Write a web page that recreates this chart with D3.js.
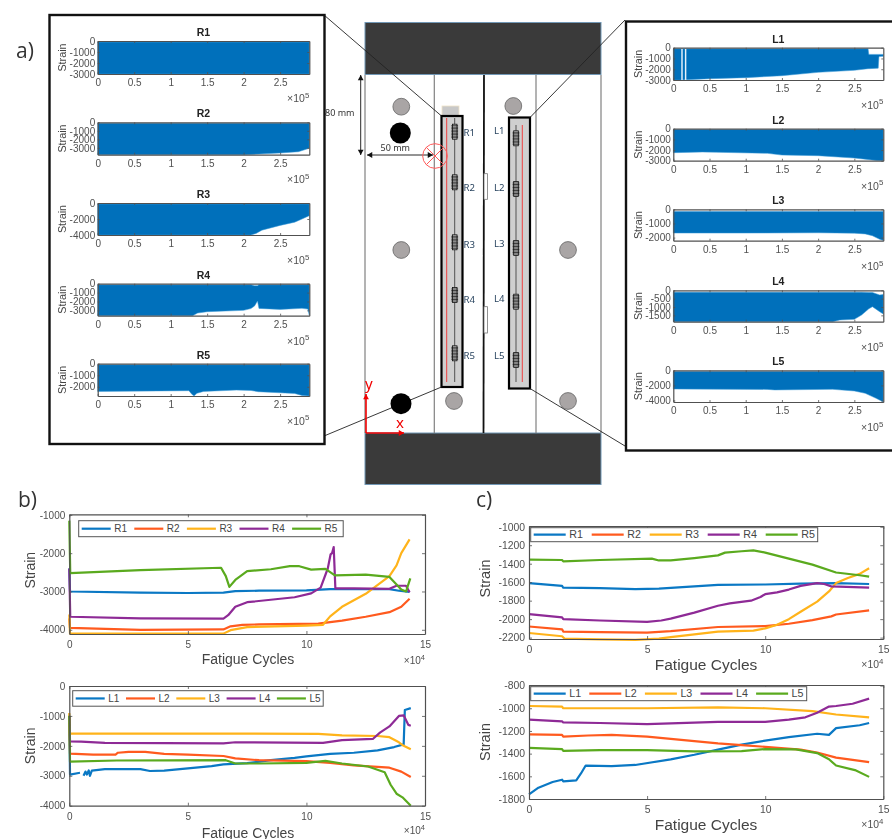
<!DOCTYPE html>
<html><head><meta charset="utf-8">
<style>html,body{margin:0;padding:0;background:#fff}svg{display:block;filter:blur(0.45px)}text{font-family:"Liberation Sans",Arial,sans-serif}</style>
<script src="https://cdn.jsdelivr.net/npm/d3@7"></script></head><body>
<svg id="c" width="892" height="839" viewBox="0 0 892 839"></svg>
<script>
// ---------- DATA: small panels of a) — [cycles/1e5, upper strain, lower strain]
const envR1=[[0,-100,-3000],[2.9,-100,-3000]];
const envR2=[[0,-120,-3800],[2.0,-120,-3800],[2.1,-120,-3770],[2.5,-120,-3600],[2.75,-120,-3450],[2.9,-120,-3050]];
const envR3=[[0,-130,-4000],[2.1,-130,-4000],[2.17,-130,-3800],[2.25,-130,-3400],[2.5,-130,-2800],[2.7,-130,-2400],[2.8,-130,-2000],[2.9,-130,-1580]];
const envR4=[[0,-120,-3600],[1.3,-120,-3600],[1.37,-120,-3300],[1.5,-120,-3150],[2.0,-120,-3000],[2.1,-120,-2800],[2.15,-220,-2500],[2.19,-220,-1950],[2.21,-120,-2780],[2.5,-120,-2890],[2.8,-120,-2775],[2.88,-120,-2850],[2.9,-120,-3550]];
const envR5=[[0,-90,-2400],[1.25,-90,-2340],[1.29,-90,-2650],[1.32,-90,-2800],[1.36,-90,-2570],[1.45,-90,-2400],[1.9,-90,-2290],[2.1,-90,-2320],[2.2,-90,-2430],[2.5,-90,-2520],[2.7,-90,-2580],[2.8,-90,-2750],[2.9,-90,-2800]];
const envL1=[[0,-100,-3000],[0.1,-100,-3000],[0.5,-100,-2880],[1.0,-100,-2780],[1.5,-100,-2600],[2.0,-100,-2290],[2.5,-100,-2100],[2.69,-100,-1950],[2.7,-620,-1950],[2.83,-620,-1900],[2.84,-620,-820],[2.9,-620,-800]];
const envL2=[[0,-80,-2250],[0.4,-80,-2190],[0.6,-80,-2210],[1.3,-80,-2310],[1.5,-80,-2470],[2.0,-80,-2530],[2.5,-80,-2750],[2.8,-80,-2970],[2.9,-80,-3000]];
const envL3=[[0,-160,-1680],[1.0,-160,-1680],[2.0,-160,-1660],[2.5,-160,-1690],[2.65,-160,-1740],[2.75,-160,-1870],[2.85,-160,-2120],[2.9,-160,-2200]];
const envL4=[[0,-110,-1880],[2.2,-110,-1880],[2.3,-110,-1780],[2.5,-110,-1740],[2.6,-110,-1480],[2.7,-130,-1110],[2.75,-130,-980],[2.85,-280,-1280],[2.9,-250,-1420]];
const envL5=[[0,-170,-2480],[1.3,-170,-2530],[1.4,-170,-2600],[2.2,-170,-2520],[2.5,-170,-2740],[2.65,-170,-3050],[2.8,-170,-3710],[2.9,-170,-4200]];
const gapsL1=[[0.11,0.13],[0.16,0.18]];
const smallXTicks=[0,0.5,1,1.5,2,2.5];
const namesR=["R1","R2","R3","R4","R5"];
const namesL=["L1","L2","L3","L4","L5"];
const rangesR=[3000,3800,4000,3600,2800];
const rangesL=[3000,3000,2220,1880,4200];
const ticksR=[[0,-1000,-2000,-3000],[0,-1000,-2000,-3000],[0,-2000,-4000],[0,-1000,-2000,-3000],[0,-1000,-2000]];
const ticksL=[[0,-1000,-2000,-3000],[0,-1000,-2000,-3000],[0,-1000,-2000],[0,-500,-1000,-1500],[0,-2000,-4000]];
// ---------- DATA: b) — [cycles/1e4, strain]
const bR1=[[0,-2400],[0.03,-3000],[3,-3030],[5,-3040],[6.5,-3030],[7,-2990],[8,-2980],[10,-2970],[11,-2940],[13.5,-2940],[13.9,-2980],[14.35,-3010]];
const bR2=[[0,-3700],[0.03,-3950],[3,-4000],[6.5,-3990],[6.8,-3910],[7.3,-3870],[8,-3860],[10.5,-3840],[11.5,-3760],[12.5,-3660],[13.5,-3540],[14,-3400],[14.35,-3190]];
const bR3=[[0,-3600],[0.03,-4100],[6.5,-4100],[6.8,-4010],[7.5,-3930],[10,-3890],[10.7,-3870],[11,-3650],[11.5,-3400],[12.5,-3060],[13.5,-2600],[13.8,-2320],[14,-2000],[14.35,-1640]];
const bR4=[[0,-2400],[0.04,-3660],[3,-3700],[6.5,-3710],[6.7,-3620],[7,-3400],[7.5,-3280],[9.5,-3150],[10.2,-3050],[10.6,-2900],[10.9,-2400],[11.02,-2030],[11.08,-2000],[11.15,-1840],[11.22,-2920],[12,-2920],[13.5,-2930],[13.8,-2850],[14.2,-2850],[14.35,-3020]];
const bR5=[[0,-1150],[0.04,-2520],[3,-2440],[6.4,-2380],[6.6,-2600],[6.75,-2880],[7,-2700],[7.5,-2470],[8.5,-2420],[9.3,-2340],[9.7,-2340],[10.2,-2430],[10.8,-2410],[11.2,-2580],[12.5,-2560],[13.5,-2620],[14,-2950],[14.2,-3000],[14.38,-2660]];
const bL1=[[0,-950],[0.03,-2960],[0.45,-2900],[0.5,null],[0.6,-3000],[0.68,-2860],[0.74,-2960],[0.82,-2820],[0.87,-3000],[0.95,-2830],[1.5,-2780],[3,-2780],[3.4,-2840],[4,-2830],[5,-2750],[6,-2680],[6.5,-2620],[7.5,-2580],[8.5,-2480],[9.5,-2400],[10,-2350],[11,-2270],[12,-2230],[13,-2150],[13.7,-2040],[14.1,-1950],[14.15,-800],[14.4,-740]];
const bL2=[[0,-1000],[0.03,-2260],[1,-2290],[1.95,-2290],[2.05,-2230],[2.5,-2200],[3.2,-2200],[4,-2270],[5,-2290],[6.5,-2340],[7,-2420],[8,-2480],[10,-2510],[11,-2570],[12,-2650],[13,-2700],[13.5,-2730],[14,-2860],[14.4,-3040]];
const bL3=[[0,-900],[0.02,-1590],[7,-1590],[10.5,-1600],[11.5,-1650],[13,-1670],[13.5,-1710],[13.9,-1880],[14.1,-2000],[14.4,-2110]];
const bL4=[[0,-1000],[0.03,-1850],[0.5,-1860],[1.5,-1900],[6.5,-1920],[7,-1880],[10.7,-1900],[11.5,-1810],[12.8,-1770],[13.1,-1560],[13.5,-1350],[13.9,-1000],[14.1,-980],[14.3,-1300],[14.4,-1330]];
const bL5=[[0,-1000],[0.03,-2530],[2,-2490],[6.6,-2480],[7,-2590],[8,-2590],[10,-2570],[10.8,-2500],[11.5,-2590],[12.6,-2690],[13.3,-2880],[13.55,-3300],[13.8,-3600],[14.05,-3720],[14.4,-4000]];
// ---------- DATA: c)
const cR1=[[0,-1610],[1.4,-1640],[1.45,-1660],[3,-1665],[4.5,-1675],[5.5,-1670],[7,-1645],[8,-1630],[10,-1625],[11.5,-1615],[13,-1610],[14.4,-1620]];
const cR2=[[0,-2080],[1.4,-2110],[1.45,-2135],[3,-2140],[5,-2145],[6,-2130],[8,-2085],[10,-2075],[11,-2050],[12,-2010],[12.8,-1970],[13,-1950],[14.4,-1905]];
const cR3=[[0,-2150],[1.4,-2185],[1.5,-2210],[3,-2220],[4.5,-2225],[5.5,-2210],[6,-2195],[7,-2165],[8,-2135],[9.5,-2125],[10,-2100],[10.5,-2060],[11,-2000],[11.5,-1920],[12.2,-1810],[12.7,-1700],[13,-1610],[13.5,-1555],[14,-1510],[14.4,-1450]];
const cR4=[[0,-1945],[1.4,-1980],[1.45,-2000],[3,-2015],[5,-2030],[5.6,-2015],[6,-1995],[7,-1930],[8,-1855],[8.5,-1830],[9.4,-1800],[9.8,-1760],[10,-1730],[10.5,-1710],[11,-1680],[11.5,-1640],[12.2,-1610],[12.5,-1620],[12.8,-1645],[14.4,-1660]];
const cR5=[[0,-1355],[1.4,-1360],[1.45,-1375],[3,-1360],[5.2,-1345],[5.5,-1365],[6,-1365],[7,-1340],[8,-1310],[8.3,-1280],[9,-1265],[9.5,-1255],[10,-1280],[11,-1345],[12,-1410],[13,-1495],[14,-1525],[14.4,-1540]];
const cL1=[[0,-1760],[0.4,-1700],[1,-1650],[1.4,-1630],[1.45,-1645],[2,-1635],[2.2,-1575],[2.4,-1505],[3.5,-1510],[4.5,-1500],[6,-1450],[7,-1410],[8,-1365],[9,-1320],[10,-1285],[11,-1255],[12.2,-1225],[12.7,-1235],[13,-1175],[14,-1150],[14.4,-1130]];
const cL2=[[0,-1230],[1.4,-1235],[1.45,-1250],[2.5,-1240],[3.5,-1235],[5,-1250],[7,-1290],[8,-1310],[9,-1325],[10,-1340],[11.5,-1365],[12.2,-1390],[13,-1435],[14.4,-1475]];
const cL3=[[0,-980],[1.4,-985],[1.45,-1000],[5,-1000],[8,-993],[10,-1000],[12,-1025],[13,-1055],[14.4,-1080]];
const cL4=[[0,-1100],[1.4,-1115],[1.45,-1125],[3,-1130],[5,-1140],[8,-1120],[10,-1120],[11,-1100],[11.7,-1080],[12.2,-1040],[12.7,-985],[13,-980],[13.7,-960],[14.4,-915]];
const cL5=[[0,-1350],[1.4,-1360],[1.45,-1375],[3,-1370],[5,-1370],[7,-1380],[9,-1378],[10,-1360],[11.3,-1362],[12.2,-1395],[12.7,-1450],[13,-1505],[13.8,-1545],[14.4,-1605]];
const lineColors=["#0a78c4","#ff5a1e","#ffb31a","#8e2a96","#5aaa1e"];
const bigXTicks=[0,5,10,15];

// ---------- helpers
const svg=d3.select("#c");
const TICK="#505050", BOX="#505050", BLUE="#0070bb";
function box(g,x,y,xT,yT,fs,tl,xPad,yPad){
  const styl=a=>{a.selectAll("path").attr("stroke",BOX).attr("stroke-width",1.2);a.selectAll("line").attr("stroke",BOX).attr("stroke-width",.8);
    a.selectAll("text").attr("fill",TICK).attr("font-size",fs).style("font-family",'"Liberation Sans",Arial,sans-serif');};
  const H=y.range()[0],W=x.range()[1];
  const fmt=d=>String(d);
  g.append("g").attr("transform",`translate(0,${H})`).call(d3.axisBottom(x).tickValues(xT).tickSizeInner(-tl).tickSizeOuter(0).tickPadding(xPad).tickFormat(fmt)).call(styl);
  g.append("g").call(d3.axisLeft(y).tickValues(yT).tickSizeInner(-tl).tickSizeOuter(0).tickPadding(yPad).tickFormat(fmt)).call(styl);
  g.append("g").call(d3.axisTop(x).tickValues(xT).tickSizeInner(-tl).tickSizeOuter(0).tickFormat("")).call(styl);
  g.append("g").attr("transform",`translate(${W},0)`).call(d3.axisRight(y).tickValues(yT).tickSizeInner(-tl).tickSizeOuter(0).tickFormat("")).call(styl);
}
function tenPow(sel,xr,yb,exp,fs){
  const t=sel.append("text").attr("x",xr).attr("y",yb).attr("text-anchor","end").attr("fill",TICK).attr("font-size",fs);
  t.append("tspan").text("×10");
  t.append("tspan").attr("dy",-fs*0.4).attr("font-size",fs*0.75).text(exp);
}
function small(name,env,yRange,yT,left,right,top,bottom,labelX,gaps){
  const g=svg.append("g").attr("transform",`translate(${left},${top})`);
  const x=d3.scaleLinear().domain([0,2.9]).range([0,right-left]);
  const y=d3.scaleLinear().domain([-yRange,0]).range([bottom-top,0]);
  const area=d3.area().x(d=>x(d[0])).y0(d=>y(d[2])).y1(d=>y(d[1]));
  g.append("path").datum(env).attr("d",area).attr("fill",BLUE).attr("stroke","#3a9ad8").attr("stroke-width",.5);
  (gaps||[]).forEach(c=>g.append("rect").attr("x",x(c[0])).attr("width",x(c[1])-x(c[0])).attr("y",y(-120)).attr("height",y(-yRange)-y(-120)).attr("fill","#e6f2fb"));
  box(g,x,y,smallXTicks,yT,10,2,5,2.5);
  g.append("text").attr("x",(right-left)/2).attr("y",-5).attr("text-anchor","middle").attr("font-size",10.5).attr("font-weight","bold").attr("fill","#222").text(name);
  g.append("text").attr("transform",`translate(${labelX-left},${(bottom-top)/2}) rotate(-90)`).attr("text-anchor","middle").attr("font-size",10.8).attr("fill","#444").text("Strain");
  tenPow(g,right-left,61,"5",10.5);
}
function big(o){
  const g=svg.append("g").attr("transform",`translate(${o.l},${o.t})`);
  const W=o.r-o.l,H=o.b-o.t;
  const x=d3.scaleLinear().domain([0,15]).range([0,W]);
  const y=d3.scaleLinear().domain(o.dom).range([H,0]);
  const line=d3.line().defined(d=>d[1]!==null).x(d=>x(d[0])).y(d=>y(d[1]));
  o.series.forEach((s,i)=>g.append("path").datum(s).attr("d",line).attr("fill","none").attr("stroke",lineColors[i]).attr("stroke-width",2.2).attr("stroke-linejoin","round"));
  box(g,x,y,bigXTicks,o.yT,o.fs,3,7,4);
  g.append("text").attr("transform",`translate(${o.ylx-o.l},${H/2+o.yly}) rotate(-90)`).attr("text-anchor","middle").attr("font-size",o.lfs).attr("fill","#444").text("Strain");
  g.append("text").attr("x",o.xlx-o.l).attr("y",o.xly-o.t).attr("text-anchor","middle").attr("font-size",o.xfs).attr("fill","#444").text("Fatigue Cycles");
  tenPow(g,W,o.pow-o.t,"4",o.fs);
  const L=g.append("g").attr("transform",`translate(${o.leg[0]-o.l},${o.leg[1]-o.t})`);
  L.append("rect").attr("width",o.leg[2]).attr("height",o.leg[3]).attr("fill","#fff").attr("stroke","#555").attr("stroke-width",1);
  o.names.forEach((n,i)=>{
    const px=o.leg[4]+i*o.leg[5];
    L.append("line").attr("x1",px).attr("x2",px+o.leg[6]).attr("y1",o.leg[3]/2).attr("y2",o.leg[3]/2).attr("stroke",lineColors[i]).attr("stroke-width",2.2);
    L.append("text").attr("x",px+o.leg[6]+3.5).attr("y",o.leg[3]/2+3.6).attr("font-size",o.legfs).attr("fill","#444").text(n);
  });
}

// ---------- schematic
function schematic(){
  const s=svg.append("g");
  s.append("rect").attr("x",365).attr("y",22.5).attr("width",236).attr("height",52).attr("fill","#3a3a3a").attr("stroke","#7197b5");
  s.append("rect").attr("x",365).attr("y",433).attr("width",236).attr("height",51.5).attr("fill","#3a3a3a").attr("stroke","#7197b5");
  [365,434.3,536,601].forEach(x=>s.append("line").attr("x1",x).attr("x2",x).attr("y1",75).attr("y2",433).attr("stroke","#808080").attr("stroke-width",1.2));
  s.append("line").attr("x1",484).attr("x2",483.5).attr("y1",75).attr("y2",433).attr("stroke","#111").attr("stroke-width",1.8);
  [[173.7,199.3],[306.7,333]].forEach(p=>s.append("rect").attr("x",484).attr("y",p[0]).attr("width",3.5).attr("height",p[1]-p[0]).attr("fill","#fff").attr("stroke","#777").attr("stroke-width",.8));
  [[401.3,106.7],[513.3,106],[401.3,250],[568,250],[454,401],[568,401]].forEach(p=>s.append("circle").attr("cx",p[0]).attr("cy",p[1]).attr("r",8.4).attr("fill","#a9a5a5").attr("stroke","#666").attr("stroke-width",.8));
  // bars
  s.append("rect").attr("x",442).attr("y",106).attr("width",17).attr("height",10).attr("fill","#c8c8c8").attr("stroke","#efe3c8").attr("stroke-width",.8);
  s.append("rect").attr("x",441.5).attr("y",116).attr("width",21).attr("height",271).attr("fill","#cfcfcf").attr("stroke","#000").attr("stroke-width",2.2);
  s.append("rect").attr("x",509).attr("y",117.5).attr("width",21).attr("height",271).attr("fill","#cfcfcf").attr("stroke","#000").attr("stroke-width",2.2);
  [[446.7,118,382,"#f03030"],[454.7,118,382,"#444"],[522.3,125,382,"#f03030"],[516,125,382,"#444"]].forEach(a=>s.append("line").attr("x1",a[0]).attr("x2",a[0]).attr("y1",a[1]).attr("y2",a[2]).attr("stroke",a[3]).attr("stroke-width",.9));
  const gauge=(x,y)=>{
    s.append("rect").attr("x",x-2.3).attr("y",y-7.5).attr("width",4.6).attr("height",15).attr("fill","#ccc").attr("stroke","#111").attr("stroke-width",.8);
    d3.range(-6,6.5,1.5).forEach(d=>s.append("line").attr("x1",x-3.4).attr("x2",x+3.4).attr("y1",y+d).attr("y2",y+d).attr("stroke","#111").attr("stroke-width",.75));
  };
  [131.7,182.3,242.3,295,353.3].forEach(y=>gauge(454.7,y));
  [138.3,189,248,301.7,360].forEach(y=>gauge(516,y));
  const lab=(t,x,y)=>s.append("text").attr("x",x).attr("y",y+3.6).attr("font-size",9.6).attr("fill","#2a4560").style("font-family",'"Noto Sans",sans-serif').text(t);
  [132,187.7,244,299.3,355.7].forEach((y,i)=>lab(namesR[i],463.5,y));
  [130.7,187,243.3,298.7,355].forEach((y,i)=>lab(namesL[i],494,y));
  // dimension arrows
  const arrow=(x1,y1,x2,y2,c,w,a)=>{
    s.append("line").attr("x1",x1).attr("y1",y1).attr("x2",x2).attr("y2",y2).attr("stroke",c).attr("stroke-width",w);
    const t=Math.atan2(y2-y1,x2-x1);
    const pt=(ang,l)=>[x2-l*Math.cos(t+ang),y2-l*Math.sin(t+ang)];
    s.append("polygon").attr("points",[[x2,y2],pt(.5,a),pt(-.5,a)].join(" ")).attr("fill",c);
  };
  arrow(360.7,100,360.7,75,"#111",.9,6); arrow(360.7,130,360.7,155,"#111",.9,6);
  s.append("line").attr("x1",360.7).attr("x2",360.7).attr("y1",100).attr("y2",130).attr("stroke","#111").attr("stroke-width",.9);
  arrow(400,155,367,155,"#111",.9,6); arrow(400,155,433,155,"#111",.9,6);
  s.append("text").attr("x",325).attr("y",116).attr("font-size",9).attr("fill","#333").style("font-family",'"Noto Sans",sans-serif').text("80 mm");
  s.append("text").attr("x",380.5).attr("y",151).attr("font-size",9).attr("fill","#333").style("font-family",'"Noto Sans",sans-serif').text("50 mm");
  s.append("circle").attr("cx",435).attr("cy",156).attr("r",12.3).attr("fill","none").attr("stroke","#ff5a5a");
  [[-8.7,-8.7,8.7,8.7],[-8.7,8.7,8.7,-8.7]].forEach(c=>s.append("line").attr("x1",435+c[0]).attr("y1",156+c[1]).attr("x2",435+c[2]).attr("y2",156+c[3]).attr("stroke","#ff5a5a"));
  // connector lines
  [[324,15,441.5,116],[324,436,441.5,387],[625,20,530,117.5],[625,446,530,388.5]].forEach(c=>s.append("line").attr("x1",c[0]).attr("y1",c[1]).attr("x2",c[2]).attr("y2",c[3]).attr("stroke","#222").attr("stroke-width",.9));
  s.append("circle").attr("cx",400.3).attr("cy",133).attr("r",10.5).attr("fill","#000");
  s.append("circle").attr("cx",401).attr("cy",403.7).attr("r",10.5).attr("fill","#000");
  // red coordinate axes
  arrow(366,433,366,394,"#f00000",1.6,6); arrow(366,433,404,433,"#f00000",1.6,6);
  s.append("text").attr("x",365).attr("y",389).attr("font-size",15).attr("fill","#f00000").style("font-family",'"Noto Sans",sans-serif').text("y");
  s.append("text").attr("x",396).attr("y",428).attr("font-size",15).attr("fill","#f00000").style("font-family",'"Noto Sans",sans-serif').text("x");
}
schematic();

// frames
svg.append("rect").attr("x",49.5).attr("y",15).attr("width",275).attr("height",429).attr("fill","#fff").attr("stroke","#111").attr("stroke-width",2.4);
svg.append("rect").attr("x",626).attr("y",21.5).attr("width",280).attr("height",429).attr("fill","#fff").attr("stroke","#111").attr("stroke-width",2.4);

// small panels
const envsR=[envR1,envR2,envR3,envR4,envR5], envsL=[envL1,envL2,envL3,envL4,envL5];
[[41,74],[122.3,154.7],[203,235],[283.7,315.7],[363.7,396]].forEach((p,i)=>small(namesR[i],envsR[i],rangesR[i],ticksR[i],97.7,309.3,p[0],p[1],65.5));
[[47.7,80],[128.7,160.7],[209.3,240.7],[290.3,321.7],[370.3,402]].forEach((p,i)=>small(namesL[i],envsL[i],rangesL[i],ticksL[i],673.3,883.3,p[0],p[1],641.5,i==0?gapsL1:null));

// big charts
big({l:69.3,r:425,t:514.3,b:634,dom:[-4110,-985],yT:[-4000,-3000,-2000,-1000],series:[bR1,bR2,bR3,bR4,bR5],names:namesR,fs:10,lfs:14,xfs:14,ylx:35,yly:-4,xlx:248,xly:664.5,pow:664,leg:[78.7,520.7,264.5,16,3,52.6,29],legfs:10});
big({l:69.3,r:425,t:686,b:805.7,dom:[-4000,0],yT:[-4000,-3000,-2000,-1000,0],series:[bL1,bL2,bL3,bL4,bL5],names:namesL,fs:10,lfs:14,xfs:14,ylx:35,yly:0,xlx:248,xly:837.5,pow:834,leg:[72.7,690.7,250.5,15.5,3,50.3,29],legfs:10});
big({l:529,r:883.3,t:526,b:639,dom:[-2215,-992],yT:[-2200,-2000,-1800,-1600,-1400,-1200,-1000],series:[cR1,cR2,cR3,cR4,cR5],names:namesR,fs:10.4,lfs:14.5,xfs:15.5,ylx:490,yly:-4,xlx:706,xly:670,pow:668,leg:[530.7,527.7,287,14,3,58,32],legfs:10.7});
big({l:529,r:883.3,t:685,b:799,dom:[-1800,-795],yT:[-1800,-1600,-1400,-1200,-1000,-800],series:[cL1,cL2,cL3,cL4,cL5],names:namesL,fs:10.4,lfs:14.5,xfs:15.5,ylx:490,yly:0,xlx:706,xly:830,pow:828,leg:[530.7,686.7,276,14,3,55.6,32],legfs:10.7});

// panel letters
[["a)",16,58],["b)",18,507],["c)",476,507]].forEach(a=>svg.append("text").attr("x",a[1]).attr("y",a[2]).attr("font-size",21).attr("fill","#333").style("font-family",'"Open Sans",sans-serif').text(a[0]));
</script></body></html>
